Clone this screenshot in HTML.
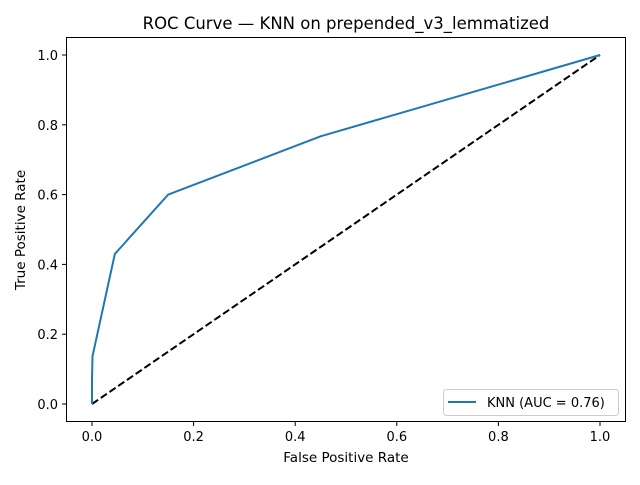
<!DOCTYPE html>
<html><head><meta charset="utf-8"><style>
body{margin:0;background:#fff;font-family:"Liberation Sans","DejaVu Sans",sans-serif}
svg text{font-family:"DejaVu Sans","Liberation Sans",sans-serif;fill:#000}
</style></head><body>
<svg id="c" width="640" height="480">
<text x="346" y="29" font-size="16.5" text-anchor="middle">ROC Curve — KNN on prepended_v3_lemmatized</text>
<text x="346" y="462" font-size="13.5" text-anchor="middle">False Positive Rate</text>
<text transform="translate(25,230) rotate(-90)" font-size="13.5" text-anchor="middle">True Positive Rate</text>
<g id="g"></g>
<rect x="66.5" y="37.5" width="559" height="384" fill="none" stroke="#000" stroke-width="1"/>
<g>
<rect x="443.5" y="389.5" width="175" height="26" rx="3" fill="#fff" stroke="#ccc"/>
<line x1="448" y1="402" x2="476" y2="402" stroke="#1f77b4" stroke-width="2"/>
<text x="487" y="407" font-size="13">KNN (AUC = 0.76)</text>
</g>
</svg>
<script>
const fpr=[0,0,0.001,0.045,0.15,0.45,1];
const tpr=[0,0.067,0.137,0.43,0.6,0.767,1];
const ticks=[0,0.2,0.4,0.6,0.8,1.0];
const tickLabels=["0.0","0.2","0.4","0.6","0.8","1.0"];
const X=v=>92+v*508, Y=v=>404-v*349;
const ns="http://www.w3.org/2000/svg", g=document.getElementById('g');
function mk(t,a){const e=document.createElementNS(ns,t);for(const k in a)e.setAttribute(k,a[k]);g.appendChild(e);return e;}
ticks.forEach((t,i)=>{
 let l=mk('line',{x1:X(t),x2:X(t),y1:421.5,y2:426,stroke:'#000'});
 
 
 let tx=mk('text',{x:X(t),y:441,'font-size':13,'text-anchor':'middle'});tx.textContent=tickLabels[i];
 
 
 let l2=mk('line',{x1:62,x2:66.5,y1:Y(t),y2:Y(t),stroke:'#000'});
 
 
 let ty=mk('text',{x:58,y:Y(t)+5,'font-size':13,'text-anchor':'end'});ty.textContent=tickLabels[i];
 
 
});
let d=mk('line',{x1:X(0),y1:Y(0),x2:X(1),y2:Y(1),stroke:'#000','stroke-width':2,'stroke-dasharray':'7.4,3.2'});


let p=mk('polyline',{points:fpr.map((f,i)=>X(f)+','+Y(tpr[i])).join(' '),fill:'none',stroke:'#1f77b4','stroke-width':2});


</script>
</body></html>
